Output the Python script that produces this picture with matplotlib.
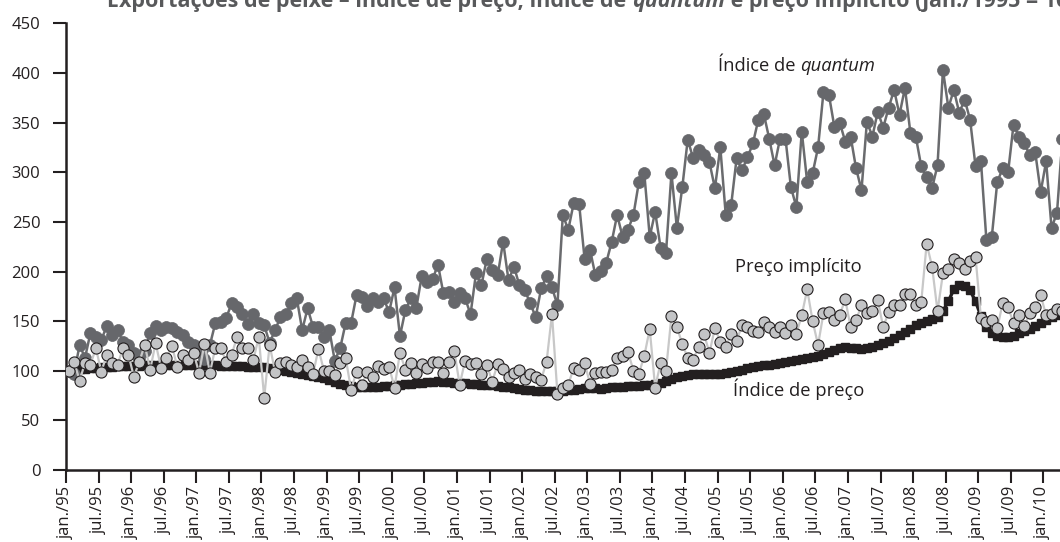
import matplotlib
matplotlib.use("Agg")
import matplotlib.pyplot as plt
import numpy as np

# ---------------- data (monthly, jan/1995 = 100) ----------------
quantum = [
    100, 97, 126, 113, 138, 134, 131, 145, 136, 141, 129, 126,
    118, 112, 120, 138, 145, 141, 144, 143, 139, 136, 129, 126,
    122, 112, 126, 148, 149, 153, 168, 164, 157, 147, 157, 148,
    146, 128, 141, 154, 157, 168, 173, 141, 163, 144, 144, 134,
    141, 110, 123, 148, 148, 176, 174, 165, 173, 169, 173, 159,
    184, 135, 161, 173, 163, 195, 189, 192, 207, 178, 179, 169,
    178, 173, 157, 198, 186, 213, 202, 196, 230, 191, 205, 186,
    181, 168, 154, 183, 195, 184, 166, 257, 242, 269, 268, 213,
    222, 196, 201, 209, 230, 257, 235, 242, 257, 290, 299, 235,
    260, 224, 219, 299, 244, 285, 333, 314, 322, 317, 310, 284,
    325, 257, 267, 314, 302, 315, 329, 353, 359, 334, 307, 334,
    334, 285, 265, 341, 290, 299, 325, 381, 378, 346, 350, 331,
    336, 304, 282, 351, 336, 361, 345, 365, 383, 358, 385, 340,
    336, 306, 295, 284, 307, 403, 365, 383, 360, 373, 353, 306,
    311, 232, 235, 290, 304, 300, 348, 336, 329, 317, 320, 280,
    311, 244, 259, 334,
]

preco_implicito = [
    100, 109, 90, 108, 106, 123, 99, 116, 108, 106, 123, 116,
    94, 109, 126, 101, 128, 103, 113, 125, 104, 116, 111, 118,
    98, 127, 98, 123, 123, 109, 116, 134, 123, 123, 111, 134,
    73, 126, 99, 108, 109, 106, 104, 111, 104, 97, 122, 100,
    100, 96, 108, 113, 81, 99, 86, 99, 94, 105, 102, 104,
    83, 118, 101, 108, 98, 107, 103, 109, 109, 98, 109, 120,
    86, 110, 107, 108, 97, 106, 89, 107, 102, 94, 98, 101,
    92, 97, 94, 91, 109, 157, 77, 83, 86, 103, 101, 108,
    87, 98, 99, 99, 101, 113, 115, 119, 100, 97, 115, 142,
    83, 108, 100, 155, 144, 127, 113, 111, 124, 137, 118, 143,
    129, 124, 137, 130, 146, 144, 140, 139, 149, 144, 139, 144,
    138, 146, 137, 156, 182, 150, 126, 158, 159, 151, 156, 172,
    144, 151, 166, 158, 160, 171, 144, 159, 166, 166, 177, 177,
    166, 169, 228, 205, 160, 198, 203, 213, 209, 203, 211, 215,
    153, 149, 151, 143, 168, 164, 148, 156, 145, 158, 164, 176,
    156, 157, 162, 160,
]

indice_preco = [
    100, 101, 102, 102, 103, 103, 104, 104, 104, 105, 105, 105,
    105, 105, 106, 106, 106, 106, 106, 106, 106, 106, 106, 106,
    106, 106, 106, 106, 105, 105, 105, 105, 105, 104, 104, 104,
    104, 103, 102, 101, 100, 99, 98, 97, 96, 95, 94, 93,
    91, 89, 87, 86, 85, 84, 84, 84, 84, 84, 85, 85,
    86, 86, 87, 87, 88, 88, 89, 89, 90, 89, 89, 88,
    88, 88, 87, 87, 86, 86, 86, 85, 84, 84, 83, 82,
    81, 81, 80, 80, 80, 80, 80, 80, 81, 81, 82, 83,
    83, 83, 82, 83, 84, 84, 84, 85, 85, 85, 86, 86,
    87, 88, 90, 92, 94, 95, 96, 97, 97, 97, 97, 97,
    97, 98, 99, 100, 101, 103, 104, 105, 106, 106, 107, 108,
    109, 110, 111, 112, 113, 114, 115, 117, 119, 121, 123, 124,
    123, 123, 122, 123, 124, 126, 128, 130, 133, 136, 139, 142,
    146, 148, 150, 152, 154, 160, 170, 182, 186, 185, 181, 170,
    155, 144, 138, 135, 134, 134, 135, 138, 140, 142, 145, 148,
    151, 154, 156, 157,
]

tick_labels = [
    "jan./95", "jul./95", "jan./96", "jul./96", "jan./97", "jul./97",
    "jan./98", "jul./98", "jan./99", "jul./99", "jan./00", "jul./00",
    "jan./01", "jul./01", "jan./02", "jul./02", "jan./03", "jul./03",
    "jan./04", "jul./04", "jan./05", "jul./05", "jan./06", "jul./06",
    "jan./07", "jul./07", "jan./08", "jul./08", "jan./09", "jul./09",
    "jan./10",
]
y_ticks = [0, 50, 100, 150, 200, 250, 300, 350, 400, 450]

# ---------------- figure ----------------
plt.rcParams["font.family"] = ["Open Sans", "DejaVu Sans"]
INK = "#231f20"
TITLE_GRAY = "#58595b"

W, H = 1060, 542
fig = plt.figure(figsize=(W / 100, H / 100), dpi=100)
ax_left, ax_right, ax_bottom_px, ax_top_px = 66, 1060, 470, 23.4
ax = fig.add_axes([ax_left / W, (H - ax_bottom_px) / H,
                   (ax_right - ax_left) / W, (ax_bottom_px - ax_top_px) / H])

x = np.arange(len(quantum)) + 0.5
month_px = 5.43
ax.set_xlim(0, (ax_right - ax_left) / month_px)
ax.set_ylim(0, 450)

ax.plot(x, indice_preco, color=INK, lw=2.4, marker="s", ms=5.2,
        mfc=INK, mec=INK, zorder=2)
ax.plot(x, quantum, color="#6a6b6e", lw=1.8, marker="o", ms=8.6,
        mfc="#66676b", mec="#66676b", mew=0.5, zorder=3)
ax.plot(x, preco_implicito, color="#c8c8c8", lw=1.6, marker="o", ms=8.0,
        mfc="#c3c4c6", mec=INK, mew=0.8, zorder=4)

for s in ("top", "right"):
    ax.spines[s].set_visible(False)
for s in ("left", "bottom"):
    ax.spines[s].set_linewidth(1.8)
    ax.spines[s].set_color(INK)

ax.set_yticks(y_ticks)
ax.set_yticklabels([str(v) for v in y_ticks])
ax.set_xticks(np.arange(0, 6 * len(tick_labels), 6))
ax.set_xticklabels(tick_labels, rotation=90, va="top", ha="center")
ax.tick_params(axis="y", length=9.5, width=1.5, color=INK, pad=9,
               labelsize=12, labelcolor=INK)
ax.tick_params(axis="x", length=9.5, width=1.5, color=INK, pad=2,
               labelsize=12, labelcolor=INK)

# ---------------- annotations ----------------
LBL = 13.2
t1 = fig.text(718 / W, 1 - 66 / H, "Índice de ", fontsize=LBL,
              color=INK, va="center", ha="left")
ax.annotate("quantum", xy=(1, 0), xycoords=t1, va="bottom", ha="left",
            fontsize=LBL, color=INK, style="italic", annotation_clip=False)

fig.text(735 / W, 1 - 267 / H, "Preço implícito", fontsize=LBL,
         color=INK, va="center", ha="left")
fig.text(733 / W, 1 - 389 / H, "Índice de preço", fontsize=LBL,
         color=INK, va="center", ha="left")

# title, only its lower part visible at the top edge (as in the reference)
TS = 15.5
tt = fig.text(107 / W, 1 - 7 / H,
              "Exportações de peixe – índice de preço, índice de ",
              fontsize=TS, fontweight="bold", color=TITLE_GRAY,
              va="baseline", ha="left")
a2 = ax.annotate("quantum", xy=(1, 0), xycoords=tt, va="bottom", ha="left",
                 fontsize=TS, fontweight="bold", style="italic",
                 color=TITLE_GRAY, annotation_clip=False)
ax.annotate(" e preço implícito (jan./1995 = 100)", xy=(1, 0), xycoords=a2,
            va="bottom", ha="left", fontsize=TS, fontweight="bold",
            color=TITLE_GRAY, annotation_clip=False)

fig.savefig("out.png", dpi=100)
